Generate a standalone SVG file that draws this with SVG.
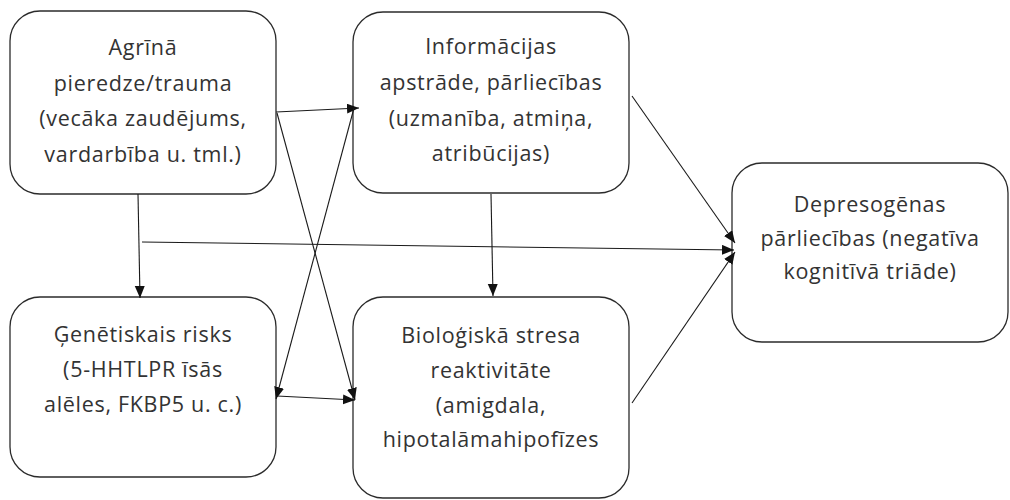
<svg xmlns="http://www.w3.org/2000/svg" width="1010" height="500" viewBox="0 0 1010 500">
<style>
.box{fill:#fff;stroke:#2b2b2b;stroke-width:1.3}
.t{font-family:"Open Sans","Noto Sans",sans-serif;font-size:21.5px;letter-spacing:0.7px;fill:#333;text-anchor:middle}
.c{stroke:#1a1a1a;stroke-width:1.1;fill:none;marker-end:url(#ah)}
</style>
<defs>
<marker id="ah" markerUnits="userSpaceOnUse" markerWidth="13" markerHeight="11" refX="12" refY="5" orient="auto">
<path d="M0,0 L12,5 L0,10 z" fill="#111"/>
</marker>
</defs>
<rect width="1010" height="500" fill="#fff"/>
<g id="node-agrina">
<rect class="box" x="10" y="11" width="266" height="183" rx="30"/>
<text class="t" x="143" y="55">Agrīnā</text>
<text class="t" x="143" y="90.5">pieredze/trauma</text>
<text class="t" x="143" y="126">(vecāka zaudējums,</text>
<text class="t" x="143" y="161.5">vardarbība  u. tml.)</text>
</g>
<g id="node-informacijas">
<rect class="box" x="353" y="12" width="276" height="181" rx="30"/>
<text class="t" x="491" y="54">Informācijas</text>
<text class="t" x="491" y="90">apstrāde, pārliecības</text>
<text class="t" x="491" y="126">(uzmanība,  atmiņa,</text>
<text class="t" x="491" y="161">atribūcijas)</text>
</g>
<g id="node-genetiskais">
<rect class="box" x="10" y="297" width="266" height="180" rx="30"/>
<text class="t" x="143" y="342">Ģenētiskais  risks</text>
<text class="t" x="143" y="377">(5-HHTLPR īsās</text>
<text class="t" x="143" y="411.5">alēles, FKBP5 u. c.)</text>
</g>
<g id="node-biologiska">
<rect class="box" x="353" y="297" width="276" height="201" rx="30"/>
<text class="t" x="491" y="343">Bioloģiskā stresa</text>
<text class="t" x="491" y="378">reaktivitāte</text>
<text class="t" x="491" y="413">(amigdala,</text>
<text class="t" x="491" y="447">hipotalāmahipofīzes</text>
</g>
<g id="node-depresogenas">
<rect class="box" x="732" y="163" width="276" height="179" rx="30"/>
<text class="t" x="870" y="212">Depresogēnas</text>
<text class="t" x="870" y="246">pārliecības (negatīva</text>
<text class="t" x="870" y="279">kognitīvā triāde)</text>
</g>
<g id="connectors">
<line class="c" x1="276" y1="112" x2="359" y2="108"/>
<line class="c" x1="277" y1="113" x2="355" y2="400"/>
<line class="c" x1="354" y1="108" x2="276" y2="399"/>
<line class="c" x1="277" y1="396" x2="355" y2="400"/>
<line class="c" x1="138" y1="194" x2="140" y2="298"/>
<line class="c" x1="142" y1="242" x2="734" y2="250"/>
<line class="c" x1="632" y1="96" x2="735" y2="243"/>
<line class="c" x1="632" y1="403" x2="735" y2="252"/>
<line class="c" x1="491" y1="194" x2="493" y2="296"/>
</g>
</svg>
